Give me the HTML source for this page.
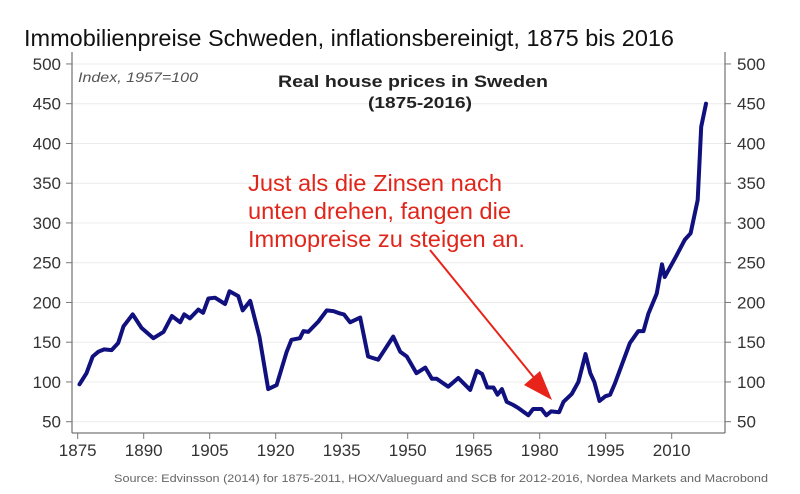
<!DOCTYPE html>
<html><head><meta charset="utf-8"><style>
html,body{margin:0;padding:0;background:#fff;}
svg{display:block;font-family:"Liberation Sans",sans-serif;}
</style></head><body>
<svg id="chart" width="800" height="494" viewBox="0 0 800 494">
<text x="24" y="46" font-size="23" fill="#111" textLength="650" lengthAdjust="spacingAndGlyphs">Immobilienpreise Schweden, inflationsbereinigt, 1875 bis 2016</text>
<g id="grid"></g>
<line x1="72" y1="52" x2="72" y2="433" stroke="#555" stroke-width="1"/>
<line x1="725" y1="52" x2="725" y2="433" stroke="#555" stroke-width="1"/>
<line x1="72" y1="433" x2="725" y2="433" stroke="#555" stroke-width="1"/>
<g id="yticks"></g>
<g id="xticks"></g>
<text x="78" y="82" font-size="14" font-style="italic" fill="#555" textLength="120" lengthAdjust="spacingAndGlyphs">Index, 1957=100</text>
<text x="413" y="87" font-size="17" font-weight="bold" fill="#222" text-anchor="middle" textLength="270" lengthAdjust="spacingAndGlyphs">Real house prices in Sweden</text>
<text x="420" y="108" font-size="16" font-weight="bold" fill="#222" text-anchor="middle" textLength="104" lengthAdjust="spacingAndGlyphs">(1875-2016)</text>
<path id="series" fill="none" stroke="#10107f" stroke-width="4" stroke-linejoin="round" stroke-linecap="round"/>
<g>
<text x="248" y="191" font-size="23" fill="#e0261b" textLength="254" lengthAdjust="spacingAndGlyphs">Just als die Zinsen nach</text>
<text x="248" y="219" font-size="23" fill="#e0261b" textLength="263" lengthAdjust="spacingAndGlyphs">unten drehen, fangen die</text>
<text x="248" y="247" font-size="23" fill="#e0261b" textLength="277" lengthAdjust="spacingAndGlyphs">Immopreise zu steigen an.</text>
<line x1="430" y1="250" x2="540" y2="385" stroke="#e8231a" stroke-width="2"/>
<polygon points="552,400 524,385 540,371" fill="#e8231a"/>
</g>
<text x="441" y="482" font-size="11" fill="#666" text-anchor="middle" textLength="654" lengthAdjust="spacingAndGlyphs">Source: Edvinsson (2014) for 1875-2011, HOX/Valueguard and SCB for 2012-2016, Nordea Markets and Macrobond</text>
</svg>
<script>
const years=[1875.4,1877,1878.4,1879.7,1881,1882.7,1884.2,1885.4,1887.5,1889.5,1892.2,1894.5,1896.4,1898.3,1899.2,1900.5,1902.4,1903.5,1904.7,1906.2,1908.5,1909.5,1911.5,1912.5,1914.2,1916.3,1918.3,1920.2,1922.5,1923.6,1925.5,1926.3,1927.4,1929.7,1931.6,1933.2,1934.7,1935.5,1936.9,1939.2,1941,1943.3,1946.7,1948.3,1949.8,1952,1954,1955.5,1956.6,1959.2,1961.5,1964.2,1965.7,1966.9,1968.1,1969.5,1970.4,1971.4,1972.5,1974,1975.2,1977.4,1978.5,1980.4,1981.5,1982.6,1984.4,1985.4,1987.3,1988.8,1990.4,1991.5,1992.4,1993.6,1994.9,1996,1997.1,2000.5,2002.4,2003.6,2004.7,2006.6,2007.8,2008.4,2011,2013,2014.3,2015.9,2016.7,2017.8];
const prices=[97,111,132,138,141,140,149,170,185,168,155,163,183,175,185,180,191,187,205,206,198,214,208,190,202,157,91,96,138,153,155,164,163,176,190,189,186,185,175,181,132,128,157,138,132,111,118,104,104,94,105,90,114,110,93,93,84,91,75,71,67,58,66,66,58,63,62,75,85,100,135,111,100,76,82,84,98,149,164,164,186,211,248,232,258,279,287,329,421,450];
const yTicks=[50,100,150,200,250,300,350,400,450,500];
const xTicks=[1875,1890,1905,1920,1935,1950,1965,1980,1995,2010];
const X=y=>77.7+(y-1875)*4.4;
const Y=v=>421.7-(v-50)*0.795;
const NS='http://www.w3.org/2000/svg';
function mk(tag,attrs,parent,txt){const e=document.createElementNS(NS,tag);for(const k in attrs)e.setAttribute(k,attrs[k]);if(txt!==undefined)e.textContent=txt;parent.appendChild(e);return e;}
const grid=document.getElementById('grid'),yt=document.getElementById('yticks'),xt=document.getElementById('xticks');
yTicks.forEach(v=>{
 const g=mk('line',{x1:72,x2:725,y1:Y(v),y2:Y(v),stroke:'#ececec','stroke-width':1},grid);
 
 
 const t1=mk('line',{x1:66,x2:72,y1:Y(v),y2:Y(v),stroke:'#777'},yt);
 
 
 const t2=mk('line',{x1:725,x2:731,y1:Y(v),y2:Y(v),stroke:'#777'},yt);
 
 
 const l=mk('text',{x:61,y:Y(v)+6,'font-size':17,fill:'#333','text-anchor':'end'},yt,v);
 
 
 const r=mk('text',{x:737,y:Y(v)+6,'font-size':17,fill:'#333'},yt,v);
 
 
});
xTicks.forEach(y=>{
 const t=mk('line',{x1:X(y),x2:X(y),y1:433,y2:439,stroke:'#777'},xt);
 
 
 const l=mk('text',{x:X(y),y:456,'font-size':17,fill:'#333','text-anchor':'middle'},xt,y);
 
 
});
document.getElementById('series').setAttribute('d',years.map((y,i)=>(i?'L':'M')+X(y).toFixed(1)+','+Y(prices[i]).toFixed(1)).join(''));
</script>
</body></html>
